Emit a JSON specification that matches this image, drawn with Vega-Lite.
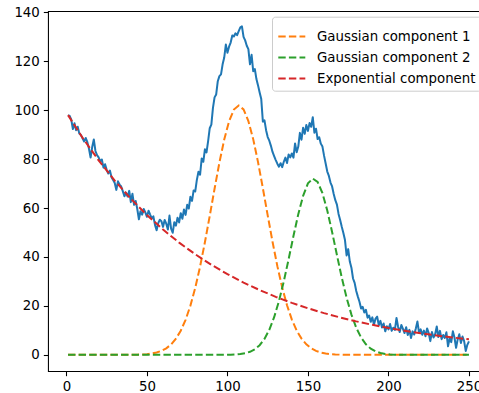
{
  "$schema": "https://vega.github.io/schema/vega-lite/v6.json",
  "autosize": "none",
  "width": 441,
  "height": 360,
  "padding": {"left": 48, "top": 11, "right": -10, "bottom": 22},
  "datasets": {
    "obs": [
      {"x":1,"y":97.9},{"x":2,"y":97.6},{"x":3,"y":96.1},{"x":4,"y":92.3},{"x":5,"y":94.6},{"x":6,"y":91.8},{"x":7,"y":93.2},{"x":8,"y":90.4},{"x":9,"y":89.8},{"x":10,"y":88.5},
      {"x":11,"y":87.2},{"x":12,"y":88.6},{"x":13,"y":86.9},{"x":14,"y":84.2},{"x":15,"y":80.6},{"x":16,"y":84.9},{"x":17,"y":88.0},{"x":18,"y":83.3},{"x":19,"y":81.6},{"x":20,"y":80.7},
      {"x":21,"y":79.1},{"x":22,"y":79.8},{"x":23,"y":76.5},{"x":24,"y":77.9},{"x":25,"y":75.6},{"x":26,"y":74.1},{"x":27,"y":75.3},{"x":28,"y":72.6},{"x":29,"y":71.4},{"x":30,"y":70.2},
      {"x":31,"y":67.4},{"x":32,"y":70.9},{"x":33,"y":69.6},{"x":34,"y":68.8},{"x":35,"y":66.9},{"x":36,"y":64.8},{"x":37,"y":66.3},{"x":38,"y":64.7},{"x":39,"y":67.0},{"x":40,"y":62.4},
      {"x":41,"y":65.8},{"x":42,"y":61.3},{"x":43,"y":62.9},{"x":44,"y":59.6},{"x":45,"y":55.4},{"x":46,"y":58.7},{"x":47,"y":57.3},{"x":48,"y":59.6},{"x":49,"y":58.2},{"x":50,"y":56.4},
      {"x":51,"y":58.9},{"x":52,"y":57.3},{"x":53,"y":55.8},{"x":54,"y":56.6},{"x":55,"y":53.1},{"x":56,"y":50.9},{"x":57,"y":53.8},{"x":58,"y":55.2},{"x":59,"y":54.6},{"x":60,"y":52.3},
      {"x":61,"y":55.1},{"x":62,"y":53.6},{"x":63,"y":51.2},{"x":64,"y":56.9},{"x":65,"y":51.6},{"x":66,"y":49.9},{"x":67,"y":54.2},{"x":68,"y":52.8},{"x":69,"y":56.0},{"x":70,"y":54.1},
      {"x":71,"y":57.9},{"x":72,"y":55.6},{"x":73,"y":59.4},{"x":74,"y":57.2},{"x":75,"y":61.3},{"x":76,"y":59.8},{"x":77,"y":64.6},{"x":78,"y":62.9},{"x":79,"y":67.2},{"x":80,"y":66.8},
      {"x":81,"y":71.5},{"x":82,"y":74.8},{"x":83,"y":73.6},{"x":84,"y":80.2},{"x":85,"y":78.9},{"x":86,"y":84.0},{"x":87,"y":82.7},{"x":88,"y":87.3},{"x":89,"y":92.6},{"x":90,"y":94.1},
      {"x":91,"y":100.9},{"x":92,"y":105.2},{"x":93,"y":106.4},{"x":94,"y":111.8},{"x":95,"y":113.9},{"x":96,"y":114.6},{"x":97,"y":118.7},{"x":98,"y":121.5},{"x":99,"y":126.8},{"x":100,"y":123.4},
      {"x":101,"y":125.9},{"x":102,"y":127.6},{"x":103,"y":130.5},{"x":104,"y":130.1},{"x":105,"y":131.4},{"x":106,"y":130.6},{"x":107,"y":132.3},{"x":108,"y":133.8},{"x":109,"y":134.2},{"x":110,"y":129.9},
      {"x":111,"y":128.5},{"x":112,"y":126.3},{"x":113,"y":124.9},{"x":114,"y":118.7},{"x":115,"y":122.6},{"x":116,"y":115.9},{"x":117,"y":116.8},{"x":118,"y":112.7},{"x":119,"y":110.1},{"x":120,"y":107.2},
      {"x":121,"y":104.5},{"x":122,"y":95.3},{"x":123,"y":95.8},{"x":124,"y":91.8},{"x":125,"y":89.0},{"x":126,"y":87.5},{"x":127,"y":85.4},{"x":128,"y":82.9},{"x":129,"y":81.2},{"x":130,"y":79.6},
      {"x":131,"y":78.1},{"x":132,"y":76.9},{"x":133,"y":78.3},{"x":134,"y":76.7},{"x":135,"y":78.9},{"x":136,"y":80.6},{"x":137,"y":78.4},{"x":138,"y":81.9},{"x":139,"y":80.7},{"x":140,"y":82.3},
      {"x":141,"y":80.6},{"x":142,"y":86.4},{"x":143,"y":82.8},{"x":144,"y":85.1},{"x":145,"y":90.7},{"x":146,"y":87.9},{"x":147,"y":92.8},{"x":148,"y":90.3},{"x":149,"y":93.9},{"x":150,"y":91.5},
      {"x":151,"y":94.7},{"x":152,"y":93.2},{"x":153,"y":97.1},{"x":154,"y":90.8},{"x":155,"y":92.4},{"x":156,"y":88.2},{"x":157,"y":88.9},{"x":158,"y":86.3},{"x":159,"y":85.1},{"x":160,"y":81.4},
      {"x":161,"y":78.2},{"x":162,"y":74.9},{"x":163,"y":73.1},{"x":164,"y":70.4},{"x":165,"y":68.8},{"x":166,"y":65.7},{"x":167,"y":63.2},{"x":168,"y":61.4},{"x":169,"y":57.6},{"x":170,"y":55.1},
      {"x":171,"y":52.3},{"x":172,"y":49.8},{"x":173,"y":46.9},{"x":174,"y":40.6},{"x":175,"y":43.2},{"x":176,"y":38.1},{"x":177,"y":35.6},{"x":178,"y":31.2},{"x":179,"y":29.4},{"x":180,"y":26.1},
      {"x":181,"y":23.8},{"x":182,"y":21.7},{"x":183,"y":18.9},{"x":184,"y":19.6},{"x":185,"y":17.3},{"x":186,"y":18.4},{"x":187,"y":15.2},{"x":188,"y":16.1},{"x":189,"y":13.5},{"x":190,"y":15.3},
      {"x":191,"y":12.4},{"x":192,"y":14.8},{"x":193,"y":15.6},{"x":194,"y":12.1},{"x":195,"y":13.9},{"x":196,"y":11.2},{"x":197,"y":12.8},{"x":198,"y":9.6},{"x":199,"y":11.7},{"x":200,"y":10.4},
      {"x":201,"y":12.6},{"x":202,"y":9.8},{"x":203,"y":11.1},{"x":204,"y":10.2},{"x":205,"y":15.1},{"x":206,"y":11.4},{"x":207,"y":9.3},{"x":208,"y":12.2},{"x":209,"y":10.6},{"x":210,"y":8.9},
      {"x":211,"y":11.3},{"x":212,"y":8.1},{"x":213,"y":10.2},{"x":214,"y":6.9},{"x":215,"y":9.6},{"x":216,"y":8.3},{"x":217,"y":10.8},{"x":218,"y":13.6},{"x":219,"y":9.1},{"x":220,"y":10.4},
      {"x":221,"y":8.2},{"x":222,"y":9.9},{"x":223,"y":7.6},{"x":224,"y":10.8},{"x":225,"y":8.9},{"x":226,"y":5.6},{"x":227,"y":9.3},{"x":228,"y":7.1},{"x":229,"y":8.4},{"x":230,"y":11.6},
      {"x":231,"y":7.3},{"x":232,"y":9.8},{"x":233,"y":6.4},{"x":234,"y":8.1},{"x":235,"y":6.9},{"x":236,"y":9.2},{"x":237,"y":3.5},{"x":238,"y":6.8},{"x":239,"y":5.2},{"x":240,"y":9.6},
      {"x":241,"y":7.1},{"x":242,"y":2.9},{"x":243,"y":6.3},{"x":244,"y":8.4},{"x":245,"y":4.8},{"x":246,"y":7.5},{"x":247,"y":5.6},{"x":248,"y":1.6},{"x":249,"y":4.1},{"x":250,"y":5.5}
    ],
    "comp": [
      {"c":"Gaussian component 1","x":1,"v":0},{"c":"Gaussian component 1","x":41,"v":0.04},{"c":"Gaussian component 1","x":44,"v":0.08},{"c":"Gaussian component 1","x":47,"v":0.16},{"c":"Gaussian component 1","x":50,"v":0.29},
      {"c":"Gaussian component 1","x":53,"v":0.53},{"c":"Gaussian component 1","x":56,"v":0.94},{"c":"Gaussian component 1","x":59,"v":1.61},{"c":"Gaussian component 1","x":62,"v":2.65},{"c":"Gaussian component 1","x":65,"v":4.25},
      {"c":"Gaussian component 1","x":68,"v":6.58},{"c":"Gaussian component 1","x":71,"v":9.86},{"c":"Gaussian component 1","x":74,"v":14.32},{"c":"Gaussian component 1","x":77,"v":20.12},{"c":"Gaussian component 1","x":80,"v":27.37},
      {"c":"Gaussian component 1","x":83,"v":36.06},{"c":"Gaussian component 1","x":86,"v":45.98},{"c":"Gaussian component 1","x":89,"v":56.77},{"c":"Gaussian component 1","x":92,"v":67.86},{"c":"Gaussian component 1","x":95,"v":78.53},
      {"c":"Gaussian component 1","x":98,"v":87.98},{"c":"Gaussian component 1","x":101,"v":95.43},{"c":"Gaussian component 1","x":104,"v":100.21},{"c":"Gaussian component 1","x":107,"v":101.88},{"c":"Gaussian component 1","x":110,"v":100.28},
      {"c":"Gaussian component 1","x":113,"v":95.55},{"c":"Gaussian component 1","x":116,"v":88.15},{"c":"Gaussian component 1","x":119,"v":78.74},{"c":"Gaussian component 1","x":122,"v":68.08},{"c":"Gaussian component 1","x":125,"v":57.0},
      {"c":"Gaussian component 1","x":128,"v":46.2},{"c":"Gaussian component 1","x":131,"v":36.25},{"c":"Gaussian component 1","x":134,"v":27.54},{"c":"Gaussian component 1","x":137,"v":20.25},{"c":"Gaussian component 1","x":140,"v":14.42},
      {"c":"Gaussian component 1","x":143,"v":9.94},{"c":"Gaussian component 1","x":146,"v":6.63},{"c":"Gaussian component 1","x":149,"v":4.29},{"c":"Gaussian component 1","x":152,"v":2.68},{"c":"Gaussian component 1","x":155,"v":1.62},
      {"c":"Gaussian component 1","x":158,"v":0.95},{"c":"Gaussian component 1","x":161,"v":0.54},{"c":"Gaussian component 1","x":164,"v":0.3},{"c":"Gaussian component 1","x":167,"v":0.16},{"c":"Gaussian component 1","x":170,"v":0.08},
      {"c":"Gaussian component 1","x":173,"v":0.04},{"c":"Gaussian component 1","x":250,"v":0},
      {"c":"Gaussian component 2","x":1,"v":0},{"c":"Gaussian component 2","x":99,"v":0.03},{"c":"Gaussian component 2","x":102,"v":0.08},{"c":"Gaussian component 2","x":105,"v":0.16},{"c":"Gaussian component 2","x":108,"v":0.33},
      {"c":"Gaussian component 2","x":111,"v":0.66},{"c":"Gaussian component 2","x":114,"v":1.26},{"c":"Gaussian component 2","x":117,"v":2.29},{"c":"Gaussian component 2","x":120,"v":3.95},{"c":"Gaussian component 2","x":123,"v":6.52},
      {"c":"Gaussian component 2","x":126,"v":10.25},{"c":"Gaussian component 2","x":129,"v":15.37},{"c":"Gaussian component 2","x":132,"v":21.99},{"c":"Gaussian component 2","x":135,"v":30.02},{"c":"Gaussian component 2","x":138,"v":39.09},
      {"c":"Gaussian component 2","x":141,"v":48.54},{"c":"Gaussian component 2","x":144,"v":57.5},{"c":"Gaussian component 2","x":147,"v":64.99},{"c":"Gaussian component 2","x":150,"v":70.05},{"c":"Gaussian component 2","x":153,"v":72.03},
      {"c":"Gaussian component 2","x":156,"v":70.65},{"c":"Gaussian component 2","x":159,"v":66.1},{"c":"Gaussian component 2","x":162,"v":58.99},{"c":"Gaussian component 2","x":165,"v":50.22},{"c":"Gaussian component 2","x":168,"v":40.78},
      {"c":"Gaussian component 2","x":171,"v":31.59},{"c":"Gaussian component 2","x":174,"v":23.34},{"c":"Gaussian component 2","x":177,"v":16.45},{"c":"Gaussian component 2","x":180,"v":11.06},{"c":"Gaussian component 2","x":183,"v":7.09},
      {"c":"Gaussian component 2","x":186,"v":4.34},{"c":"Gaussian component 2","x":189,"v":2.53},{"c":"Gaussian component 2","x":192,"v":1.41},{"c":"Gaussian component 2","x":195,"v":0.75},{"c":"Gaussian component 2","x":198,"v":0.38},
      {"c":"Gaussian component 2","x":201,"v":0.18},{"c":"Gaussian component 2","x":204,"v":0.09},{"c":"Gaussian component 2","x":207,"v":0.04},{"c":"Gaussian component 2","x":250,"v":0},
      {"c":"Exponential component","x":1,"v":97.94},{"c":"Exponential component","x":10,"v":88.71},{"c":"Exponential component","x":20,"v":79.47},{"c":"Exponential component","x":30,"v":71.2},{"c":"Exponential component","x":40,"v":63.79},
      {"c":"Exponential component","x":50,"v":57.14},{"c":"Exponential component","x":60,"v":51.19},{"c":"Exponential component","x":70,"v":45.86},{"c":"Exponential component","x":80,"v":41.09},{"c":"Exponential component","x":90,"v":36.81},
      {"c":"Exponential component","x":100,"v":32.98},{"c":"Exponential component","x":110,"v":29.54},{"c":"Exponential component","x":120,"v":26.47},{"c":"Exponential component","x":130,"v":23.71},{"c":"Exponential component","x":140,"v":21.24},
      {"c":"Exponential component","x":150,"v":19.03},{"c":"Exponential component","x":160,"v":17.05},{"c":"Exponential component","x":170,"v":15.27},{"c":"Exponential component","x":180,"v":13.68},{"c":"Exponential component","x":190,"v":12.26},
      {"c":"Exponential component","x":200,"v":10.98},{"c":"Exponential component","x":210,"v":9.84},{"c":"Exponential component","x":220,"v":8.82},{"c":"Exponential component","x":230,"v":7.9},{"c":"Exponential component","x":240,"v":7.07},
      {"c":"Exponential component","x":250,"v":6.34}
    ]
  },
  "layer": [
    {
      "data": {"name": "obs"},
      "mark": {"type": "line", "color": "#1f77b4", "strokeWidth": 2, "strokeJoin": "round"},
      "encoding": {
        "x": {"field": "x", "type": "quantitative", "scale": {"domain": [-11.45, 262.45], "nice": false, "zero": false}, "axis": {"values": [0, 50, 100, 150, 200, 250], "title": null}},
        "y": {"field": "y", "type": "quantitative", "scale": {"domain": [-6.6, 140.5], "nice": false, "zero": false}, "axis": {"values": [0, 20, 40, 60, 80, 100, 120, 140], "title": null}}
      }
    },
    {
      "data": {"name": "comp"},
      "mark": {"type": "line", "strokeWidth": 2, "strokeDash": [7.4, 3.2], "strokeCap": "butt"},
      "encoding": {
        "x": {"field": "x", "type": "quantitative"},
        "y": {"field": "v", "type": "quantitative"},
        "color": {
          "field": "c", "type": "nominal", "sort": null,
          "scale": {"domain": ["Gaussian component 1", "Gaussian component 2", "Exponential component"], "range": ["#ff7f0e", "#2ca02c", "#d62728"]},
          "legend": {
            "orient": "none", "legendX": 224, "legendY": 5.7, "title": null,
            "symbolType": "stroke", "symbolSize": 729, "symbolStrokeWidth": 2, "symbolDash": [7.4, 3.2],
            "labelFont": "DejaVu Sans", "labelFontSize": 13.33, "labelColor": "#000000", "labelOffset": 10.7, "labelLimit": 400,
            "fillColor": "rgba(255,255,255,0.8)", "strokeColor": "#cccccc", "cornerRadius": 3, "padding": 5.3, "rowPadding": 0
          }
        }
      }
    }
  ],
  "config": {
    "font": "DejaVu Sans",
    "view": {"stroke": "#000000", "strokeWidth": 1.07},
    "axis": {"grid": false, "domain": false, "labelFont": "DejaVu Sans", "labelFontSize": 13.33, "labelColor": "#000000", "tickColor": "#000000", "tickSize": 4.67, "tickWidth": 1.07, "labelPadding": 4}
  }
}
